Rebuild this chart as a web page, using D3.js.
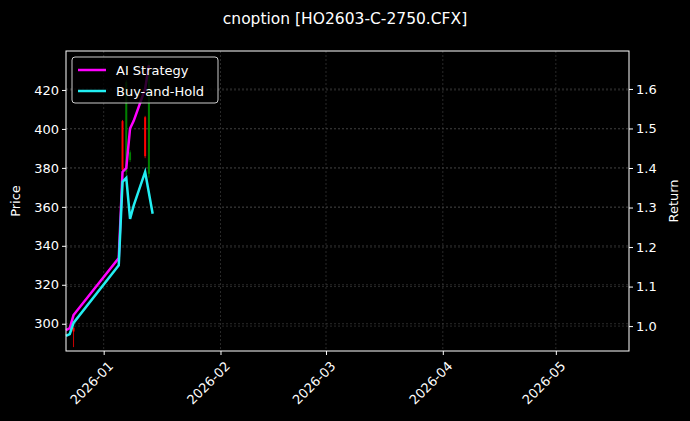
<!DOCTYPE html>
<html><head><meta charset="utf-8">
<script src="https://cdn.jsdelivr.net/npm/d3@7"></script>
<style>body{margin:0;background:#000}svg{font-family:"DejaVu Sans",sans-serif}</style>
</head><body><svg id="c" width="690" height="421"></svg>
<script>
// line data (return axis)
const aiDates = ['2025-12-22','2025-12-23','2025-12-24','2026-01-05','2026-01-06','2026-01-07','2026-01-08','2026-01-09','2026-01-12','2026-01-13'];
const aiReturn = [0.99, 0.995, 1.028, 1.172, 1.39, 1.40, 1.50, 1.52, 1.60, 1.66];
const bhDates = ['2025-12-22','2025-12-23','2025-12-24','2026-01-05','2026-01-06','2026-01-07','2026-01-08','2026-01-09','2026-01-12','2026-01-14'];
const bhReturn = [0.975, 0.98, 1.008, 1.154, 1.365, 1.375, 1.271, 1.306, 1.39, 1.284];
// candles (price axis)
const cDates = ['2025-12-24','2026-01-06','2026-01-07','2026-01-08','2026-01-12','2026-01-13'];
const cOpen  = [298, 404, 378, 384, 406, 377];
const cClose = [296, 379, 424, 388, 386, 433];
const cHigh  = [298, 404.6, 425, 389, 406.7, 435];
const cLow   = [288, 378, 376, 383, 385, 375];
const priceTicks = [300, 320, 340, 360, 380, 400, 420];
const returnTicks = [1.0, 1.1, 1.2, 1.3, 1.4, 1.5, 1.6];
const monthTicks = ['2026-01-01','2026-02-01','2026-03-01','2026-04-01','2026-05-01'];

const parse = d3.utcParse('%Y-%m-%d');
const svg = d3.select('#c');
const L = 66, R = 629, T = 51, B = 351;
const x = d3.scaleUtc().domain([new Date(Date.UTC(2025,11,22,0)), new Date(Date.UTC(2026,4,20,10))]).range([L, R]);
const yP = d3.scaleLinear().domain([286, 440]).range([B, T]);
const yR = d3.scaleLinear().domain([0.937, 1.696]).range([B, T]);

// grid
const g = svg.append('g').attr('stroke', '#444').attr('stroke-dasharray', '2,2').attr('stroke-width', 0.6);
monthTicks.forEach(d => g.append('line').attr('x1', x(parse(d))).attr('x2', x(parse(d))).attr('y1', T).attr('y2', B));
priceTicks.forEach(v => g.append('line').attr('x1', L).attr('x2', R).attr('y1', yP(v)).attr('y2', yP(v)));
returnTicks.forEach(v => g.append('line').attr('x1', L).attr('x2', R).attr('y1', yR(v)).attr('y2', yR(v)));

// candles
cDates.forEach((d, i) => {
  const col = cClose[i] >= cOpen[i] ? 'green' : 'red';
  const cx = x(parse(d));
  svg.append('line').attr('x1', cx).attr('x2', cx).attr('y1', yP(cHigh[i])).attr('y2', yP(cLow[i])).attr('stroke', col).attr('stroke-width', 0.8);
  svg.append('line').attr('x1', cx).attr('x2', cx).attr('y1', yP(cOpen[i])).attr('y2', yP(cClose[i])).attr('stroke', col).attr('stroke-width', 2);
});

const line = d3.line().x(d => x(d[0])).y(d => yR(d[1]));
svg.append('path').datum(aiDates.map((d, i) => [parse(d), aiReturn[i]])).attr('d', line)
  .attr('fill', 'none').attr('stroke', '#ff00ff').attr('stroke-width', 2.5);
svg.append('path').datum(bhDates.map((d, i) => [parse(d), bhReturn[i]])).attr('d', line)
  .attr('fill', 'none').attr('stroke', '#22eef2').attr('stroke-width', 2.5);

// clip overflow
svg.append('rect').attr('x', 0).attr('y', 0).attr('width', 690).attr('height', T).attr('fill', '#000');
svg.append('rect').attr('x', 0).attr('y', B).attr('width', 690).attr('height', 421 - B).attr('fill', '#000');

// axes
const axL = svg.append('g').attr('transform', `translate(${L},0)`).call(d3.axisLeft(yP).tickValues(priceTicks).tickSize(4));
const axR = svg.append('g').attr('transform', `translate(${R},0)`).call(d3.axisRight(yR).tickValues(returnTicks).tickSize(4).tickFormat(d3.format('.1f')));
const axB = svg.append('g').attr('transform', `translate(0,${B})`).call(d3.axisBottom(x).tickValues(monthTicks.map(parse)).tickSize(4).tickFormat(d3.utcFormat('%Y-%m')));
[axL, axR, axB].forEach(a => {
  a.attr('font-family', null).attr('font-size', null);
  a.select('.domain').remove();
  a.selectAll('line').attr('stroke', '#fff');
  a.selectAll('text').attr('fill', '#fff').style('font-size', '13px');
});
axB.selectAll('text').attr('text-anchor', 'end').attr('dy', 0).attr('dx', 0)
  .attr('transform', 'translate(5,11) rotate(-45)');
svg.append('rect').attr('x', L).attr('y', T).attr('width', R - L).attr('height', B - T)
  .attr('fill', 'none').attr('stroke', '#fff').attr('stroke-width', 1);

svg.append('text').attr('x', 345).attr('y', 24).attr('text-anchor', 'middle').attr('fill', '#fff').style('font-size', '15.5px').text('cnoption [HO2603-C-2750.CFX]');
svg.append('text').attr('transform', 'translate(20,201) rotate(-90)').attr('text-anchor', 'middle').attr('fill', '#fff').style('font-size', '13px').text('Price');
svg.append('text').attr('transform', 'translate(678,201) rotate(-90)').attr('text-anchor', 'middle').attr('fill', '#fff').style('font-size', '13px').text('Return');

// legend
const lg = svg.append('g');
lg.append('rect').attr('x', 72).attr('y', 57).attr('width', 146).attr('height', 46).attr('rx', 3)
  .attr('fill', '#000').attr('fill-opacity', 0.8).attr('stroke', '#ccc');
[['AI Strategy', '#ff00ff'], ['Buy-and-Hold', '#22eef2']].forEach((e, i) => {
  const yy = 70 + i * 21;
  lg.append('line').attr('x1', 78).attr('x2', 106).attr('y1', yy).attr('y2', yy).attr('stroke', e[1]).attr('stroke-width', 2.5);
  lg.append('text').attr('x', 116).attr('y', yy + 4.5).attr('fill', '#fff').style('font-size', '13px').text(e[0]);
});
</script></body></html>
